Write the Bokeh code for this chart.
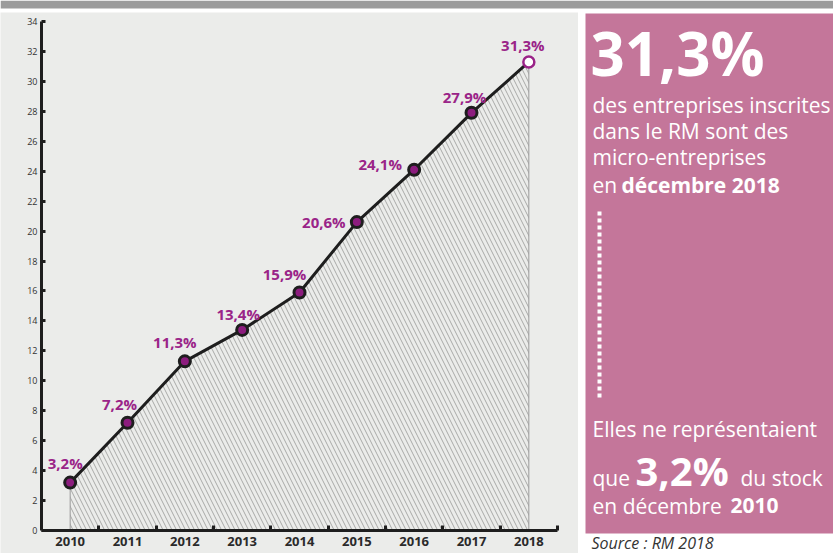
from bokeh.plotting import figure
from bokeh.models import Range1d, FixedTicker
from bokeh.layouts import row, column
from bokeh.core.properties import value
from bokeh.embed import file_html
from bokeh.resources import INLINE

# ---------------- data ----------------
years = [2010, 2011, 2012, 2013, 2014, 2015, 2016, 2017, 2018]
shares = [3.2, 7.2, 11.3, 13.4, 15.9, 20.6, 24.1, 27.9, 31.3]
y_ticks = list(range(0, 35, 2))
y_max = 34


def pct(v):
    return f"{v:.1f}%".replace(".", ",")


labels = [pct(v) for v in shares]

# label placement relative to the marker (screen px, negative = up/left)
label_dx = [-5, -8, -10, -4, -15, -33, -34, -7, -6]
label_dy = [-20, -19, -19, -16, -18, 0, -6, -16, -17]

FONT = value("Open Sans")
BG = "#ebecea"
PINK = "#c4769a"
PURPLE = "#9a2488"
MARKER = "#8c1c7e"
INK = "#1e1e1e"

# ---------------- layout geometry (page px) ----------------
W_CHART, H_BODY, TOP_H = 578, 541, 12
AX_LEFT, AX_RIGHT = 41, 557        # x-axis span in px
AX_TOP, AX_BOTTOM = 21, 530        # y-axis span in px (page coords)

x_lo, x_hi = years[0] - 0.5, years[-1] + 0.5
ppx = (AX_RIGHT - AX_LEFT) / (x_hi - x_lo)
ppy = (AX_BOTTOM - AX_TOP) / y_max
x_start = x_lo - AX_LEFT / ppx
x_end = x_hi + (W_CHART - AX_RIGHT) / ppx
y_start = -(TOP_H + H_BODY - AX_BOTTOM) / ppy
y_end = y_max + (AX_TOP - TOP_H) / ppy

# ---------------- top strip ----------------
top = figure(width=833, height=TOP_H, x_range=Range1d(0, 833), y_range=Range1d(12, 0),
             output_backend="svg", toolbar_location=None, min_border=0,
             x_axis_location=None, y_axis_location=None,
             background_fill_color="white", border_fill_color="white")
top.outline_line_color = None
top.grid.visible = False
top.quad(left=[0], right=[833], top=[0], bottom=[8], fill_color="#9b9b9b",
         line_color=None)

# ---------------- chart ----------------
p = figure(width=W_CHART, height=H_BODY,
           x_range=Range1d(x_start, x_end), y_range=Range1d(y_start, y_end),
           output_backend="svg", toolbar_location=None, min_border=0,
           background_fill_color=BG, border_fill_color=BG)
p.outline_line_color = None
p.grid.visible = False

p.varea(x=years, y1=[0] * len(years), y2=shares, fill_color=None,
        hatch_pattern="\\", hatch_color="#444444", hatch_alpha=0.4,
        hatch_scale=9, hatch_weight=1)
p.segment(x0=[years[0], years[-1]], y0=[0, 0],
          x1=[years[0], years[-1]], y1=[shares[0], shares[-1]],
          line_color="#9a9a9a", line_width=1)
p.line(years, shares, line_color=INK, line_width=3)
p.scatter(years[:-1], shares[:-1], size=11, fill_color=MARKER,
          line_color=INK, line_width=3)
p.scatter([years[-1]], [shares[-1]], size=11, fill_color="white",
          line_color=PURPLE, line_width=2.5)
p.text(x=years, y=shares, text=labels, x_offset=label_dx, y_offset=label_dy,
       text_font=FONT, text_font_style="bold", text_font_size="15px",
       text_color=PURPLE, text_align="center", text_baseline="middle")

xa = p.xaxis[0]
xa.fixed_location = 0
xa.bounds = (x_lo, x_hi)
xa.ticker = FixedTicker(ticks=years, minor_ticks=[y + 0.5 for y in years])
xa.major_label_overrides = {y: str(y) for y in years}
xa.major_tick_in = 0
xa.major_tick_out = 0
xa.minor_tick_in = 5
xa.minor_tick_out = 0
xa.minor_tick_line_width = 3
xa.minor_tick_line_color = INK
xa.axis_line_width = 3
xa.axis_line_color = INK
xa.major_label_text_font = "Open Sans"
xa.major_label_text_font_style = "bold"
xa.major_label_text_font_size = "13px"
xa.major_label_text_color = "#2a2a2a"
xa.major_label_standoff = 6

ya = p.yaxis[0]
ya.fixed_location = x_lo
ya.bounds = (0, y_max)
ya.ticker = FixedTicker(ticks=y_ticks)
ya.major_tick_in = 4
ya.major_tick_out = 0
ya.major_tick_line_width = 3
ya.major_tick_line_color = INK
ya.minor_tick_line_color = None
ya.axis_line_width = 3
ya.axis_line_color = INK
ya.major_label_text_font = "Open Sans"
ya.major_label_text_font_size = "9px"
ya.major_label_text_color = "#333333"
ya.major_label_standoff = 4

# ---------------- side panel (coordinates = page px) ----------------
q = figure(width=833 - W_CHART, height=H_BODY, x_range=Range1d(W_CHART, 833),
           y_range=Range1d(TOP_H + H_BODY, TOP_H), output_backend="svg",
           toolbar_location=None, min_border=0,
           x_axis_location=None, y_axis_location=None,
           background_fill_color="white", border_fill_color="white")
q.outline_line_color = None
q.grid.visible = False
q.quad(left=[585], right=[833], top=[13], bottom=[533],
       fill_color=PINK, line_color=None)


def txt(x, y, s, size, style="normal", color="white"):
    q.text(x=[x], y=[y], text=[s], text_font=FONT, text_font_style=style,
           text_font_size=f"{size}px", text_color=color, text_align="left",
           text_baseline="middle")


txt(590, 52, pct(shares[-1]), 60, "bold")
txt(592, 104, "des entreprises inscrites", 21)
txt(592, 130, "dans le RM sont des", 21)
txt(592, 156, "micro-entreprises", 21)
txt(592, 184, "en", 21)
txt(621, 184, f"décembre {years[-1]}", 21, "bold")
q.segment(x0=[599], y0=[211], x1=[599], y1=[400], line_color="white",
          line_width=4, line_dash="4 3")
txt(592, 428, "Elles ne représentaient", 21)
txt(592, 477, "que", 21)
txt(635, 470, pct(shares[0]), 40, "bold")
txt(740, 477, "du stock", 21)
txt(592, 505, "en décembre", 21)
txt(730, 505, str(years[0]), 21, "bold")
txt(591, 542, "Source : RM 2018", 16, "italic", "#333333")

layout = column(top, row(p, q))
open("out.html", "w").write(file_html(layout, INLINE))
